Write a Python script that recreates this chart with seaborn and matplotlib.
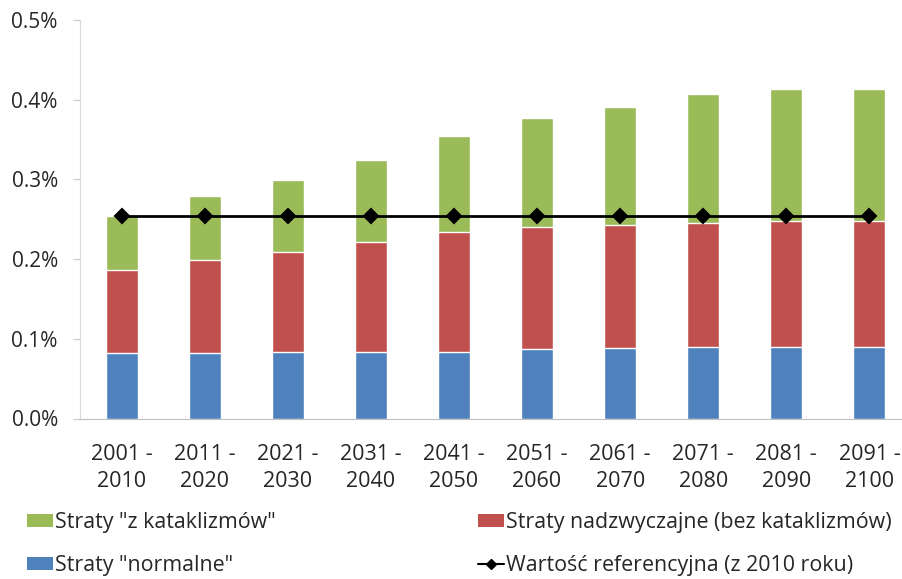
import numpy as np
import pandas as pd
import matplotlib
matplotlib.use("Agg")
import matplotlib.pyplot as plt
from matplotlib.patches import Patch
from matplotlib.lines import Line2D
import seaborn as sns

# data (values in %)
periods = ["2001 -\n2010", "2011 -\n2020", "2021 -\n2030", "2031 -\n2040", "2041 -\n2050",
           "2051 -\n2060", "2061 -\n2070", "2071 -\n2080", "2081 -\n2090", "2091 -\n2100"]
normalne = [0.082, 0.082, 0.083, 0.0835, 0.084, 0.087, 0.088, 0.090, 0.090, 0.090]
nadzwyczajne = [0.104, 0.117, 0.126, 0.1375, 0.1505, 0.1535, 0.1545, 0.1555, 0.158, 0.158]
kataklizmy = [0.068, 0.080, 0.090, 0.103, 0.1195, 0.1365, 0.148, 0.1615, 0.166, 0.166]
referencja = [0.254] * 10

labels = ['Straty "z kataklizmów"', 'Straty nadzwyczajne (bez kataklizmów)',
          'Straty "normalne"', 'Wartość referencyjna (z 2010 roku)']

blue, red, green = "#4F81BD", "#C0504D", "#9BBB59"
txt = "#262626"

df = pd.DataFrame({"okres": periods, "normalne": normalne,
                   "nadzwyczajne": nadzwyczajne, "kataklizmy": kataklizmy})
df["lvl2"] = df["normalne"] + df["nadzwyczajne"]
df["lvl3"] = df["lvl2"] + df["kataklizmy"]

sns.set_style("white")
plt.rcParams["font.family"] = ["Open Sans", "DejaVu Sans"]

fig = plt.figure(figsize=(9.03, 5.79), dpi=100)
ax = fig.add_axes([80 / 903, 1 - 418.5 / 579, 831 / 903, 398.5 / 579])

# stacked bars drawn as overlapping cumulative totals
sns.barplot(data=df, x="okres", y="lvl3", color=green, saturation=1, width=0.385, ax=ax)
sns.barplot(data=df, x="okres", y="lvl2", color=red, saturation=1, width=0.385, ax=ax)
sns.barplot(data=df, x="okres", y="normalne", color=blue, saturation=1, width=0.385, ax=ax)
sns.pointplot(x=periods, y=referencja, color="black", markers="D", markersize=7.5,
              linewidth=2, ax=ax)

ax.set_xlim(-0.5, 9.5)
ax.set_ylim(0, 0.5)
ax.set_yticks(np.arange(0, 0.51, 0.1))
ax.set_yticklabels([f"{v:.1f}%" for v in np.arange(0, 0.51, 0.1)])
ax.set_xlabel("")
ax.set_ylabel("")

ax.set_xticks(np.arange(-0.5, 10, 1), minor=True)
ax.tick_params(axis="x", which="major", length=0, pad=18, labelsize=15.5, labelcolor=txt)
ax.tick_params(axis="x", which="minor", length=6, color="#BFBFBF", width=1, direction="out")
ax.tick_params(axis="y", length=5, color="#D0D0D0", width=1, pad=11, labelsize=15,
               labelcolor=txt, left=True)
for lab in ax.get_xticklabels():
    lab.set_linespacing(1.4)

sns.despine(ax=ax, top=True, right=True)
ax.spines["left"].set_color("#D9D9D9")
ax.spines["bottom"].set_color("#BFBFBF")

h_green = Patch(facecolor=green, edgecolor="none")
h_red = Patch(facecolor=red, edgecolor="none")
h_blue = Patch(facecolor=blue, edgecolor="none")
h_line = Line2D([0], [0], color="black", lw=1.5, marker="D", markersize=5.5)

common = dict(frameon=False, fontsize=15.4, handlelength=1.2, handleheight=0.57,
              handletextpad=0.1, labelspacing=1.05, borderaxespad=0, borderpad=0,
              labelcolor=txt, loc="upper left")
fig.legend([h_green, h_blue], [labels[0], labels[2]],
           bbox_to_anchor=(27 / 903, 1 - 512 / 579), **common)
fig.legend([h_red, h_line], [labels[1], labels[3]],
           bbox_to_anchor=(478 / 903, 1 - 512 / 579), **common)

fig.savefig("out.png", dpi=100)
